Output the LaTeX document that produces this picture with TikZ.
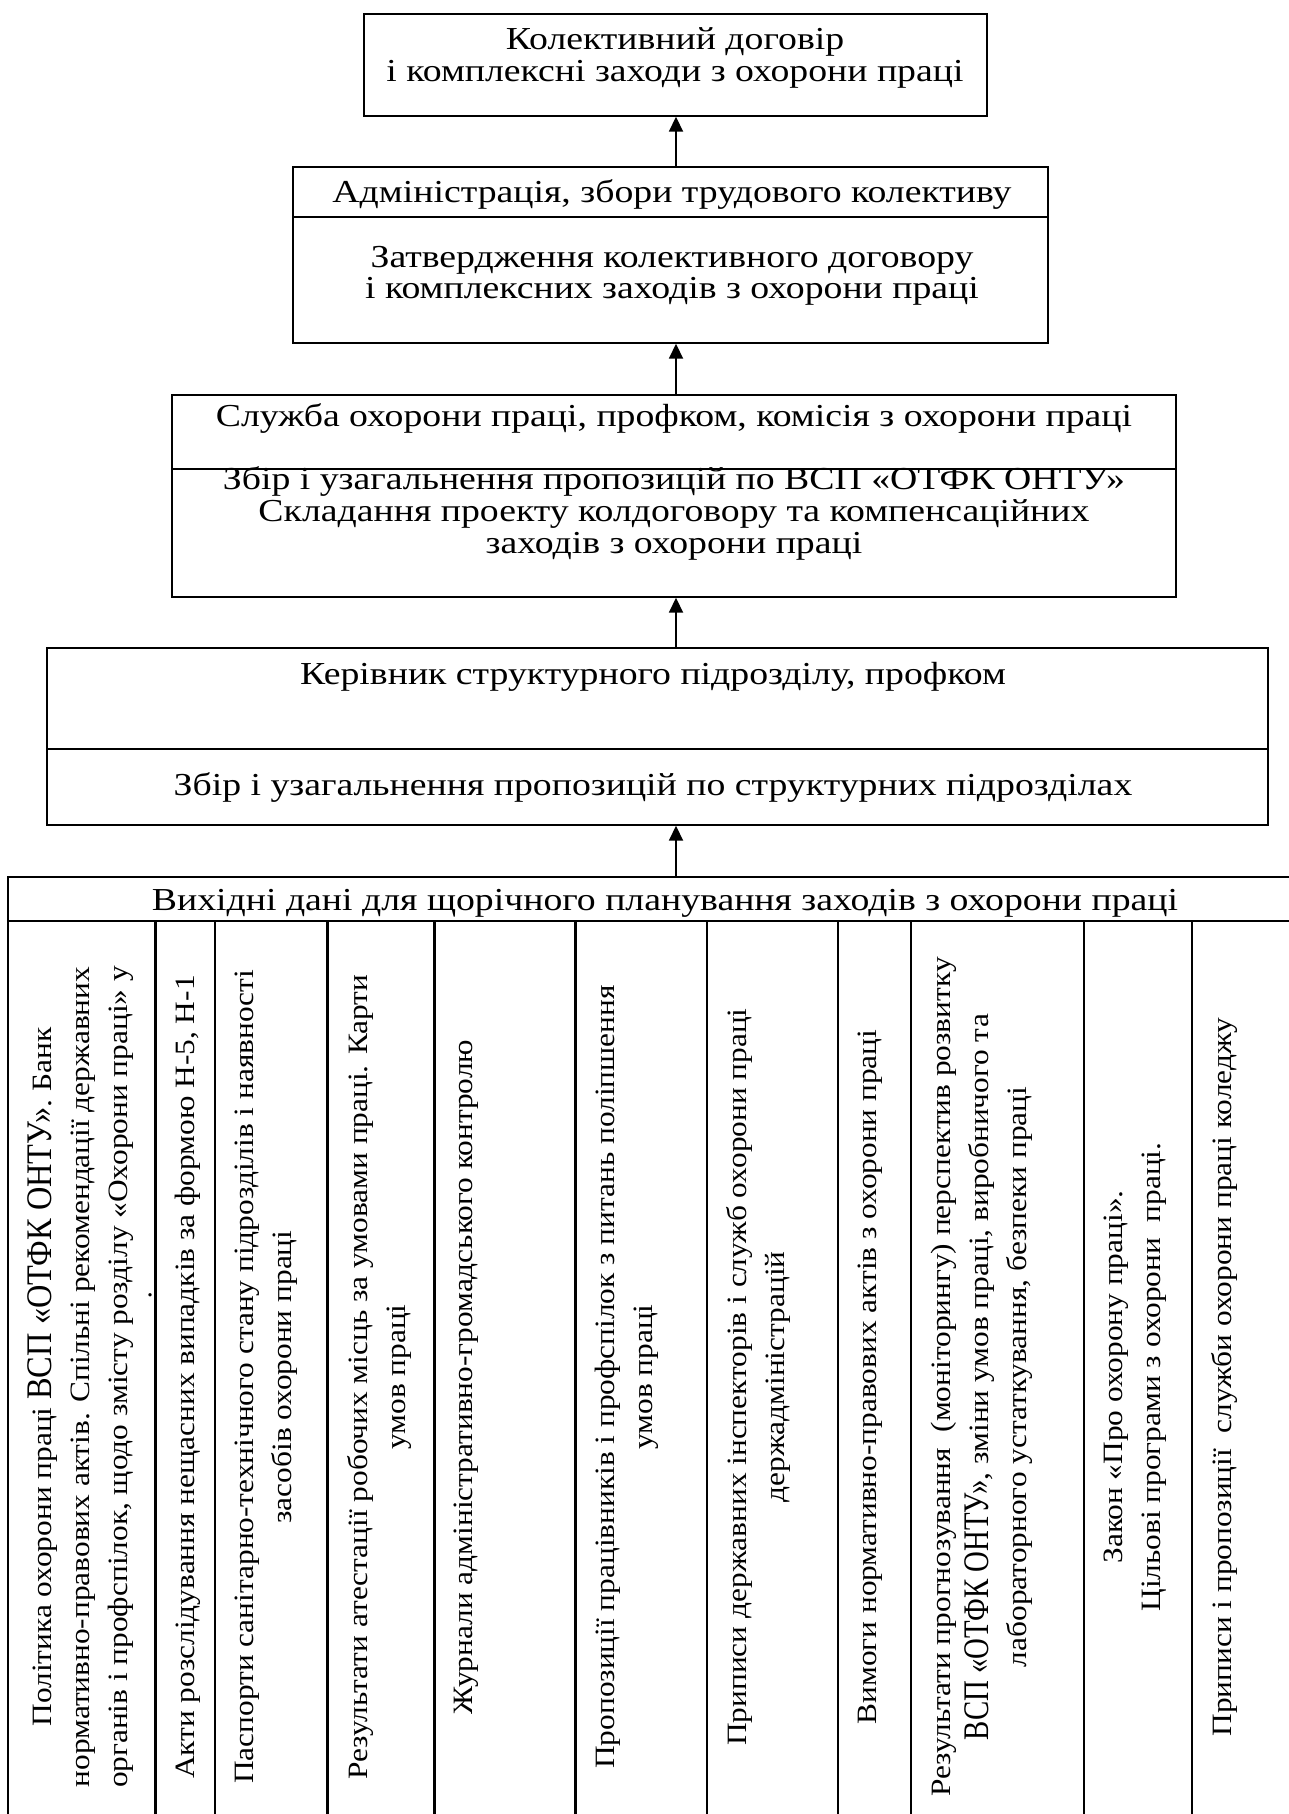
\documentclass[tikz,border=0pt]{standalone}
\usepackage{fontspec}
\setmainfont{Liberation Serif}
\newfontfamily\boxfont[FakeStretch=1.18]{Liberation Serif}
\newfontfamily\tabfont[FakeStretch=1.12]{Liberation Serif}
\newfontfamily\bigfontA[FakeStretch=0.9]{Liberation Serif}
\newfontfamily\bigfontB[FakeStretch=0.8]{Liberation Serif}
\usetikzlibrary{arrows.meta}
\begin{document}
\begin{tikzpicture}[x=1pt,y=-1pt,
  box/.style={draw,line width=1.4pt,inner sep=0pt},
  tbl/.style={draw,line width=2.2pt,inner sep=0pt},
  sep/.style={line width=1.4pt},
  tsep/.style={line width=2.2pt},
  arr/.style={line width=1.8pt,-{Triangle[length=15pt,width=14pt]}},
  btxt/.style={font=\boxfont\fontsize{32}{32}\selectfont,inner sep=0pt,anchor=base},
  vtxt/.style={font=\tabfont\fontsize{28}{38}\selectfont,rotate=90,anchor=north,align=center,inner sep=0pt},
]
\useasboundingbox (0,0) rectangle (1288,1814);
\fill[white] (0,0) rectangle (1288,1814);
% boxes
\node[box,minimum width=623pt,minimum height=102pt] (b1) at (675.5,65) {};
\node[box,minimum width=755pt,minimum height=176pt] (b2) at (670.5,255) {};
\node[box,minimum width=1004pt,minimum height=202pt] (b3) at (674,496) {};
\node[box,minimum width=1221pt,minimum height=177pt] (b4) at (657.5,736.5) {};
\node[tbl,minimum width=1312pt,minimum height=950pt] (t) at (664,1352) {};
% dividers
\draw[sep] (b2.west |- 0,217) -- (b2.east |- 0,217);
\draw[sep] (b3.west |- 0,469) -- (b3.east |- 0,469);
\draw[sep] (b4.west |- 0,749) -- (b4.east |- 0,749);
\draw[tsep] (t.west |- 0,921) -- (t.east |- 0,921);
\foreach \cx in {155.5,215,327.5,434.5,575.5,707,838,911,1084,1192}
  \draw[tsep] (\cx,921) -- (\cx,1827);
% arrows
\coordinate (ax) at (676,0);
\draw[arr] (ax |- b2.north) -- (ax |- b1.south);
\draw[arr] (ax |- b3.north) -- (ax |- b2.south);
\draw[arr] (ax |- b4.north) -- (ax |- b3.south);
\draw[arr] (ax |- t.north) -- (ax |- b4.south);
% box texts
\node[btxt] (l1a) at (675,50) {Колективний договір};
\node[btxt] (l1b) at (675,82) {і комплексні заходи з охорони праці};
\node[btxt] (l2a) at (672,203) {Адміністрація, збори трудового колективу};
\node[btxt] (l2b) at (672,267) {Затвердження колективного договору};
\node[btxt] (l2c) at (672,298) {і комплексних заходів з охорони праці};
\node[btxt] (l3a) at (674,426) {Служба охорони праці, профком, комісія з охорони праці};
\node[btxt] (l3b) at (674,489) {Збір і узагальнення пропозицій по ВСП «ОТФК ОНТУ»};
\node[btxt] (l3c) at (674,521) {Складання проекту колдоговору та компенсаційних};
\node[btxt] (l3d) at (674,553) {заходів з охорони праці};
\node[btxt] (l4a) at (653,684) {Керівник структурного підрозділу, профком};
\node[btxt] (l4b) at (653,795) {Збір і узагальнення пропозицій по структурних підрозділах};
\node[btxt] (th) at (665,910) {Вихідні дані для щорічного планування заходів з охорони праці};
% columns
\node[vtxt] (c1) at (27.5,1377) {Політика охорони праці {\bigfontA\fontsize{36}{38}\selectfont ВСП «ОТФК ОНТУ»}. Банк\\нормативно-правових актів. Спільні рекомендації державних\\органів і профспілок, щодо змісту розділу «Охорони праці» у};
\node[font=\fontsize{28}{28}\selectfont,inner sep=0pt] (c1d) at (150,1295) {.};
\node[vtxt] (c2) at (175,1377) {Акти розслідування нещасних випадків за формою Н-5, Н-1};
\node[vtxt] (c3) at (234.5,1377) {Паспорти санітарно-технічного стану підрозділів і наявності\\засобів охорони праці};
\node[vtxt] (c4) at (347,1377) {Результати атестації робочих місць за умовами праці. Карти\\умов праці};
\node[vtxt] (c5) at (454,1377) {Журнали адміністративно-громадського контролю};
\node[vtxt] (c6) at (595,1377) {Пропозиції працівників і профспілок з питань поліпшення\\умов праці};
\node[vtxt] (c7) at (726.5,1377) {Приписи державних інспекторів і служб охорони праці\\держадміністрацій};
\node[vtxt] (c8) at (857.5,1377) {Вимоги нормативно-правових актів з охорони праці};
\node[vtxt] (c9) at (930.5,1377) {Результати прогнозування \ (моніторингу) перспектив розвитку\\{\bigfontB\fontsize{36}{38}\selectfont ВСП «ОТФК ОНТУ»}, зміни умов праці, виробничого та\\лабораторного устаткування, безпеки праці};
\node[vtxt] (c10) at (1103.5,1377) {Закон «Про охорону праці».\\Цільові програми з охорони \ праці.};
\node[vtxt] (c11) at (1211.5,1377) {Приписи і пропозиції \ служби охорони праці коледжу};
\end{tikzpicture}
\end{document}
